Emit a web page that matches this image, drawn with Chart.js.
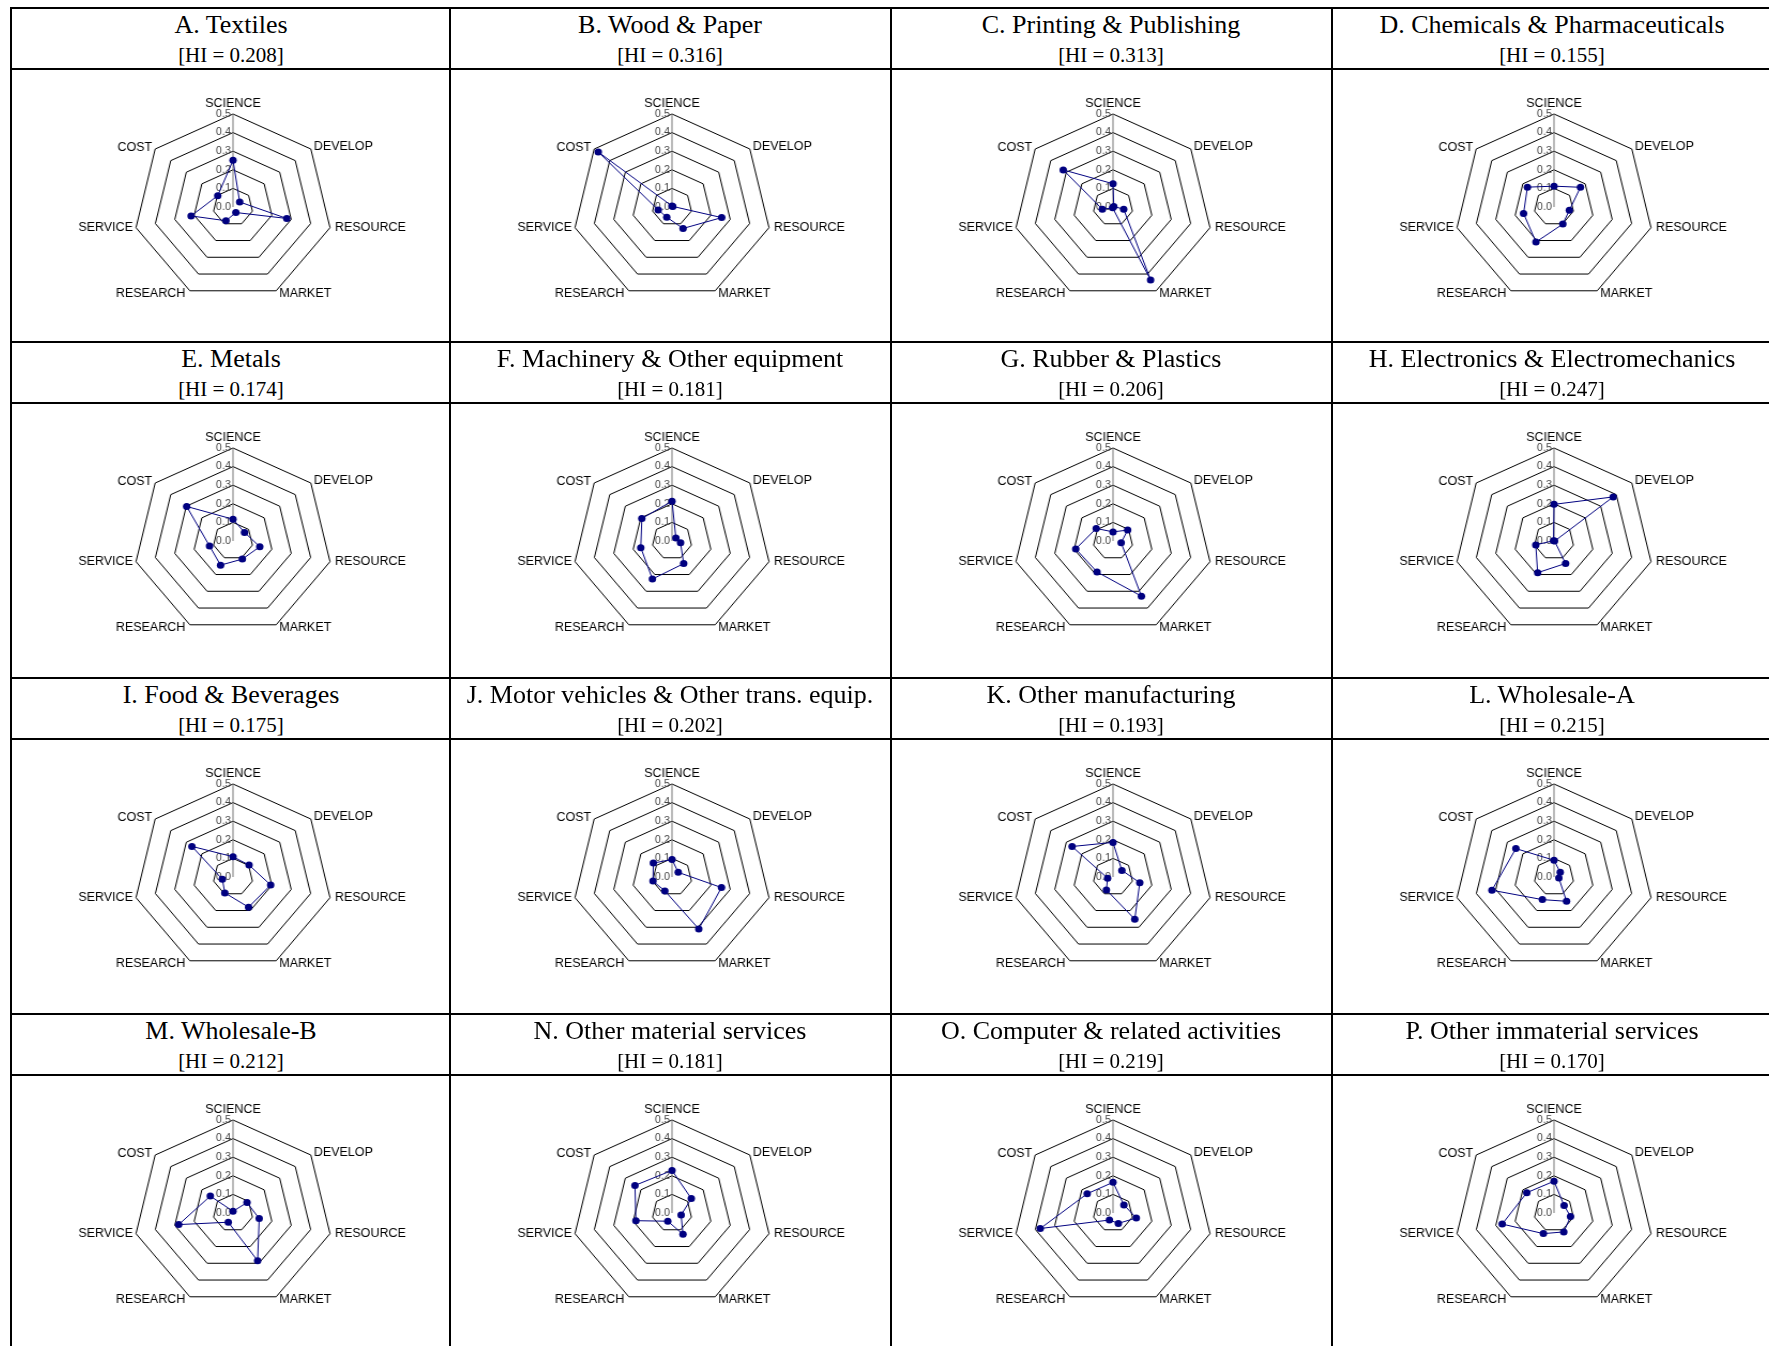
<!DOCTYPE html>
<html>
<head>
<meta charset="utf-8">
<title>Innovation profiles by industry</title>
<script src="https://cdn.jsdelivr.net/npm/chart.js@4.4.1/dist/chart.umd.min.js"></script>
<style>
  body { margin: 0; background: #fff; }
  #page { position: relative; width: 1769px; height: 1346px; overflow: hidden; background: #fff;
          font-family: "Liberation Serif", "Times New Roman", serif; color: #000; }
  .rule { position: absolute; background: #000; }
  .head { position: absolute; text-align: center; white-space: nowrap; }
  .head .name { font-size: 26px; line-height: 30px; }
  .head .hi { font-size: 21px; line-height: 24px; margin-top: 3px; }
  canvas { position: absolute; }
</style>
</head>
<body>
<div id="page"></div>
<script>
// radar axes (clockwise from top) and the ring labels
const axisLabels = ['SCIENCE', 'DEVELOP', 'RESOURCE', 'MARKET', 'RESEARCH', 'SERVICE', 'COST'];
const tickValues = [0, 0.1, 0.2, 0.3, 0.4, 0.5];
const tickLabels = ['0.0', '0.1', '0.2', '0.3', '0.4', '0.5'];

const industries = [
  'A. Textiles', 'B. Wood & Paper', 'C. Printing & Publishing', 'D. Chemicals & Pharmaceuticals',
  'E. Metals', 'F. Machinery & Other equipment', 'G. Rubber & Plastics', 'H. Electronics & Electromechanics',
  'I. Food & Beverages', 'J. Motor vehicles & Other trans. equip.', 'K. Other manufacturing', 'L. Wholesale-A',
  'M. Wholesale-B', 'N. Other material services', 'O. Computer & related activities', 'P. Other immaterial services'
];
const hiValues = ['0.208', '0.316', '0.313', '0.155', '0.174', '0.181', '0.206', '0.247',
                  '0.175', '0.202', '0.193', '0.215', '0.212', '0.181', '0.219', '0.170'];

// shares per source, same order as axisLabels
const textiles           = [0.251, 0.043, 0.277, 0.033, 0.082, 0.216, 0.098];
const woodPaper          = [0.005, 0.005, 0.256, 0.128, 0.061, 0.071, 0.474];
const printing           = [0.125, 0.005, 0.055, 0.435, 0.005, 0.055, 0.320];
const chemicals          = [0.112, 0.170, 0.079, 0.102, 0.209, 0.157, 0.171];
const metals             = [0.117, 0.074, 0.138, 0.108, 0.144, 0.121, 0.298];
const machinery          = [0.214, 0.025, 0.044, 0.135, 0.227, 0.161, 0.194];
const rubberPlastics     = [0.049, 0.094, 0.042, 0.329, 0.185, 0.192, 0.108];
const electronics        = [0.197, 0.380, 0.003, 0.134, 0.189, 0.094, 0.003];
const foodBeverages      = [0.109, 0.103, 0.194, 0.180, 0.095, 0.055, 0.264];
const motorVehicles      = [0.094, 0.040, 0.255, 0.310, 0.083, 0.098, 0.120];
const otherManufacturing = [0.186, 0.057, 0.138, 0.252, 0.077, 0.028, 0.263];
const wholesaleA         = [0.090, 0.040, 0.025, 0.145, 0.135, 0.320, 0.245];
const wholesaleB         = [0.009, 0.090, 0.135, 0.285, 0.055, 0.280, 0.146];
const otherMaterial      = [0.229, 0.124, 0.047, 0.127, 0.049, 0.186, 0.238];
const computer           = [0.165, 0.070, 0.120, 0.062, 0.042, 0.375, 0.166];
const otherImmaterial    = [0.171, 0.065, 0.085, 0.113, 0.123, 0.267, 0.175];

const profiles = [textiles, woodPaper, printing, chemicals, metals, machinery, rubberPlastics, electronics,
                  foodBeverages, motorVehicles, otherManufacturing, wholesaleA, wholesaleB, otherMaterial,
                  computer, otherImmaterial];

// table geometry
const colLeft = [11, 450, 891, 1332];
const rowTop = [8, 342, 678, 1014];
const headH = 61;
const canvasW = 438, canvasH = 270;
// the original radars are a bit wider than tall
const STRETCH = 1.07;

// label offsets from each outer vertex in screen px [dx, dy]
const labelNudge = [[0, -7.5], [3, -2.5], [5, 0], [3, 2.5], [-4.5, 2.5], [-3, 0], [-3, -1]];

const page = document.getElementById('page');

function rule(x, y, w, h) {
  const d = document.createElement('div');
  d.className = 'rule';
  d.style.left = x + 'px'; d.style.top = y + 'px';
  d.style.width = w + 'px'; d.style.height = h + 'px';
  page.appendChild(d);
}

rowTop.forEach(y => {
  rule(10, y - 1, 1769, 2);
  rule(10, y + headH - 1, 1769, 2);
});
colLeft.forEach(x => rule(x - 1, 7, 2, 1346));

const radarText = {
  id: 'radarText',
  beforeDatasetsDraw(chart) {
    const r = chart.scales.r;
    const ctx = chart.ctx;
    ctx.save();
    ctx.font = '10px "Liberation Sans", Arial, sans-serif';
    ctx.fillStyle = '#444';
    ctx.textAlign = 'right';
    ctx.textBaseline = 'middle';
    tickValues.forEach((v, i) => {
      ctx.fillText(tickLabels[i], r.xCenter - 2, r.yCenter - r.getDistanceFromCenterForValue(v));
    });
    ctx.restore();
  },
  afterDraw(chart) {
    const r = chart.scales.r;
    const ctx = chart.ctx;
    ctx.save();
    ctx.font = '12.5px "Liberation Sans", Arial, sans-serif';
    ctx.fillStyle = '#000';
    axisLabels.forEach((lab, i) => {
      const p = r.getPointPosition(i, r.drawingArea);
      const [dx, dy] = labelNudge[i];
      if (i === 0) {
        ctx.textAlign = 'center';
        ctx.textBaseline = 'alphabetic';
      } else {
        ctx.textAlign = dx > 0 ? 'left' : 'right';
        ctx.textBaseline = 'middle';
      }
      ctx.save();
      ctx.translate(p.x + dx / STRETCH, p.y + dy);
      ctx.scale(1 / STRETCH, 1);
      ctx.fillText(lab, 0, 0);
      ctx.restore();
    });
    ctx.restore();
  }
};

profiles.forEach((values, k) => {
  const col = k % 4, row = Math.floor(k / 4);
  const x0 = colLeft[col], y0 = rowTop[row];

  const head = document.createElement('div');
  head.className = 'head';
  head.style.left = (x0 + 1) + 'px';
  head.style.top = (y0 + 2) + 'px';
  head.style.width = canvasW + 'px';
  head.innerHTML = '<div class="name"></div><div class="hi"></div>';
  head.querySelector('.name').textContent = industries[k];
  head.querySelector('.hi').textContent = '[HI = ' + hiValues[k] + ']';
  page.appendChild(head);

  const cv = document.createElement('canvas');
  cv.width = canvasW; cv.height = canvasH;
  cv.style.left = (x0 + 1) + 'px';
  cv.style.top = (y0 + headH + 1) + 'px';
  cv.style.width = canvasW + 'px'; cv.style.height = canvasH + 'px';
  cv.style.transformOrigin = '221px 0px';
  cv.style.transform = 'scaleX(' + STRETCH + ')';
  page.appendChild(cv);

  new Chart(cv, {
    type: 'radar',
    data: {
      labels: axisLabels,
      datasets: [{
        data: values,
        borderColor: '#000080',
        borderWidth: 1,
        pointRadius: 3.5,
        pointBackgroundColor: '#000080',
        pointBorderColor: '#000080',
        pointBorderWidth: 0,
        fill: false,
        clip: false
      }]
    },
    options: {
      responsive: false,
      animation: false,
      devicePixelRatio: 1,
      layout: { padding: { top: 44, bottom: 40, left: 128, right: 124 } },
      elements: { line: { tension: 0 } },
      plugins: { legend: { display: false }, tooltip: { enabled: false } },
      scales: {
        r: {
          min: 0,
          max: 0.5,
          ticks: { stepSize: 0.1, display: false },
          pointLabels: { display: false },
          grid: { color: '#000', lineWidth: 1 },
          angleLines: {
            color: '#777',
            lineWidth: ctx => ctx.index === 0 ? 1 : 0
          }
        }
      }
    },
    plugins: [radarText]
  });
});
</script>
</body>
</html>
